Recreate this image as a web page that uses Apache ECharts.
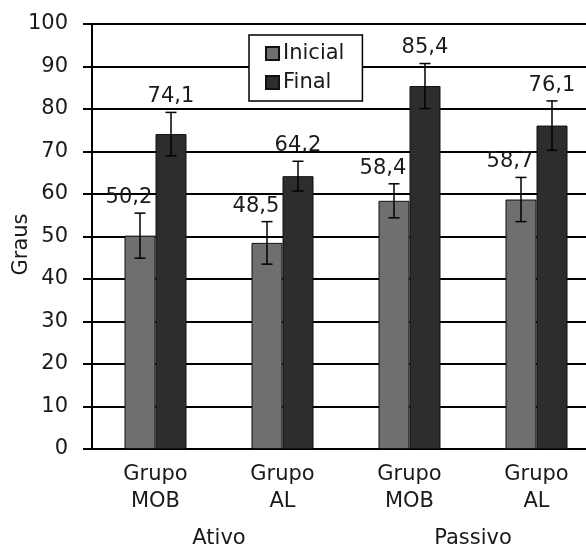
<!DOCTYPE html>
<html>
<head>
<meta charset="utf-8">
<script src="https://cdn.jsdelivr.net/npm/echarts@6/dist/echarts.min.js"></script>
<style>
    html, body { margin: 0; padding: 0; background: #fff; }
    #chart { width: 586px; height: 548px; }
</style>
</head>
<body>
<div id="chart"></div>
<script>
// 数据
var categories = ["Grupo\nMOB", "Grupo\nAL", "Grupo\nMOB", "Grupo\nAL"];
var groups = ["Ativo", "Passivo"];
var inicial = [50.2, 48.5, 58.4, 58.7];
var final = [74.1, 64.2, 85.4, 76.1];
var inicialErr = [5.3, 5.0, 4.0, 5.2];
var finalErr = [5.1, 3.5, 5.3, 5.8];
var yTicks = [0, 10, 20, 30, 40, 50, 60, 70, 80, 90, 100];

(function () {
    var myChart = echarts.init(document.getElementById("chart"));
    var font = "DejaVu Sans";
    var fs = 21;
    var textColor = "#1a1a1a";
    var barW = 31;

    // 误差线 + 数值标签
    function errRender(xOffset, labelDx) {
        return function (params, api) {
            var i = api.value(0);
            var v = api.value(1);
            var e = api.value(2);
            var top = api.coord([i, v + e]);
            var bot = api.coord([i, v - e]);
            var x = top[0] + xOffset;
            var ls = { stroke: "#000", lineWidth: 1.5 };
            return {
                type: "group",
                children: [
                    { type: "line", shape: { x1: x, y1: top[1], x2: x, y2: bot[1] }, style: ls },
                    { type: "line", shape: { x1: x - 5.5, y1: top[1], x2: x + 5.5, y2: top[1] }, style: ls },
                    { type: "line", shape: { x1: x - 5.5, y1: bot[1], x2: x + 5.5, y2: bot[1] }, style: ls },
                    {
                        type: "text",
                        x: x + labelDx,
                        y: top[1] - 5,
                        style: {
                            text: v.toFixed(1).replace(".", ","),
                            fill: textColor,
                            fontSize: fs,
                            fontFamily: font,
                            align: "center",
                            verticalAlign: "bottom"
                        }
                    }
                ]
            };
        };
    }

    var option = {
        animation: false,
        backgroundColor: "#fff",
        textStyle: { fontFamily: font, color: textColor },
        legend: {
            data: ["Inicial", "Final"],
            orient: "vertical",
            left: 249,
            top: 35,
            padding: [8, 18, 8, 16],
            itemGap: 8,
            itemWidth: 13,
            itemHeight: 13,
            backgroundColor: "#fff",
            borderColor: "#000",
            borderWidth: 1.5,
            borderRadius: 0,
            icon: "rect",
            textStyle: { fontSize: fs, fontFamily: font, color: textColor, padding: [0, 0, 0, -1] }
        },
        grid: {
            left: 92,
            top: 24,
            width: 508,
            height: 425,
            containLabel: false,
            outerBoundsMode: "none"
        },
        xAxis: [
            {
                type: "category",
                data: categories,
                axisLine: { lineStyle: { color: "#000", width: 2 } },
                axisTick: { show: false },
                axisLabel: {
                    margin: 12,
                    fontSize: fs,
                    fontFamily: font,
                    color: textColor,
                    lineHeight: 27
                }
            },
            {
                type: "category",
                data: groups,
                position: "bottom",
                axisLine: { show: false },
                axisTick: { show: false },
                splitLine: { show: false },
                axisLabel: { margin: 79, fontSize: fs, fontFamily: font, color: textColor }
            }
        ],
        yAxis: {
            type: "value",
            min: yTicks[0],
            max: yTicks[yTicks.length - 1],
            interval: 10,
            name: "Graus",
            nameLocation: "middle",
            nameGap: 60,
            nameMoveOverlap: false,
            nameTextStyle: { fontSize: fs, fontFamily: font, color: textColor, padding: [0, 16, 0, 0] },
            axisLine: { show: true, lineStyle: { color: "#000", width: 2 } },
            axisTick: { show: true, length: 9, lineStyle: { color: "#000", width: 2 } },
            axisLabel: { margin: 24, fontSize: fs, fontFamily: font, color: textColor },
            splitLine: { lineStyle: { color: "#000", width: 2 } }
        },
        series: [
            {
                name: "Inicial",
                type: "bar",
                barWidth: barW,
                barGap: "0%",
                data: inicial,
                itemStyle: { color: "#6f6f6f", borderColor: "#111", borderWidth: 1 },
                z: 3
            },
            {
                name: "Final",
                type: "bar",
                barWidth: barW,
                barGap: "0%",
                data: final,
                itemStyle: { color: "#2d2d2d", borderColor: "#111", borderWidth: 1 },
                z: 3
            },
            {
                type: "custom",
                renderItem: errRender(-barW / 2, -11),
                data: inicial.map(function (v, i) { return [i, v, inicialErr[i]]; }),
                encode: { x: 0, y: 1 },
                z: 5
            },
            {
                type: "custom",
                renderItem: errRender(barW / 2, 0),
                data: final.map(function (v, i) { return [i, v, finalErr[i]]; }),
                encode: { x: 0, y: 1 },
                z: 5
            }
        ]
    };

    myChart.setOption(option);
    window.addEventListener("resize", function () {
        myChart.resize();
    });
})();
</script>
</body>
</html>
